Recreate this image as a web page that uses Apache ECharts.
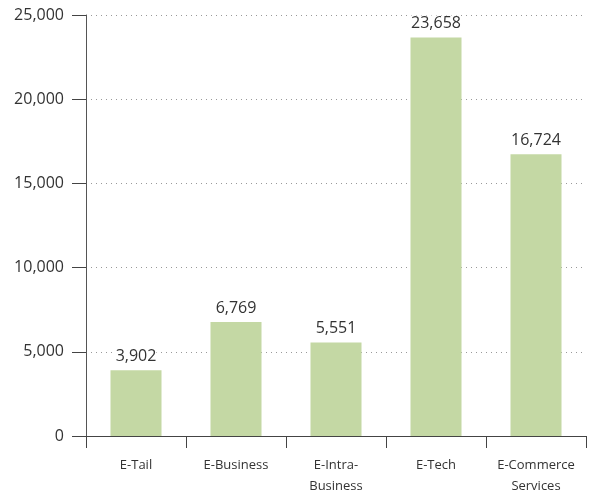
<!DOCTYPE html>
<html><head><meta charset="utf-8">
<script src="https://cdn.jsdelivr.net/npm/echarts@6/dist/echarts.min.js"></script>
<style>html,body{margin:0;padding:0;background:#fff}#c{width:592px;height:497px}</style>
</head><body><div id="c"></div>
<script>
const categories = ["E-Tail", "E-Business", "E-Intra-\nBusiness", "E-Tech", "E-Commerce\nServices"];
const values = [3902, 6769, 5551, 23658, 16724];
const yTicks = { min: 0, max: 25000, interval: 5000 };
const chart = echarts.init(document.getElementById('c'));
const fmt = v => v.toLocaleString('en-US');
chart.setOption({
  animation: false,
  grid: { left: 86, right: 6, top: 15, bottom: 58 },
  xAxis: {
    type: 'category', data: categories,
    axisLine: { lineStyle: { color: '#444', width: 1 } },
    axisTick: { show: true, interval: 0, length: 12, lineStyle: { color: '#444' } },
    axisLabel: { interval: 0, margin: 19, fontFamily: 'Open Sans', fontSize: 13, color: '#333', lineHeight: 21 }
  },
  yAxis: {
    type: 'value', min: yTicks.min, max: yTicks.max, interval: yTicks.interval,
    axisLine: { show: true, lineStyle: { color: '#555', width: 1 } },
    axisTick: { show: true, length: 14, lineStyle: { color: '#444' } },
    axisLabel: { margin: 22, fontFamily: 'Open Sans', fontSize: 16, color: '#333', formatter: fmt },
    splitLine: { show: true, lineStyle: { type: [1, 4], color: '#999' } }
  },
  series: [{
    type: 'bar', data: values, barWidth: '51%',
    itemStyle: { color: '#c4d8a4' },
    label: { show: true, position: 'top', distance: 6, fontFamily: 'Open Sans', fontSize: 16, color: '#333',
      backgroundColor: '#fff', formatter: p => fmt(p.value) }
  }]
});
</script></body></html>
